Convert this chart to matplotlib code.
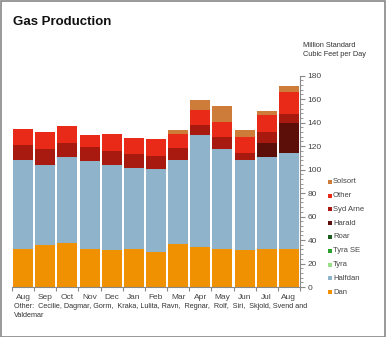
import matplotlib
matplotlib.use("Agg")
import matplotlib.pyplot as plt
from matplotlib.patches import Rectangle
from matplotlib.ticker import MultipleLocator
import numpy as np

plt.rcParams["font.family"] = ["Liberation Sans", "DejaVu Sans"]

months = ["Aug", "Sep", "Oct", "Nov", "Dec", "Jan", "Feb", "Mar", "Apr", "May", "Jun", "Jul", "Aug"]

# stacked from bottom to top
dan = [32.4, 35.8, 37.5, 32.4, 31.5, 32.4, 29.8, 36.6, 34.0, 32.4, 31.5, 32.4, 32.4]
halfdan = [75.8, 68.1, 73.2, 74.9, 72.4, 69.0, 70.7, 71.6, 95.5, 85.1, 76.7, 78.3, 81.5]
tyra = [0] * 13
tyra_se = [0] * 13
roar = [0] * 13
harald = [0, 0, 0, 0, 0, 0, 0, 0, 0, 0, 0, 11.9, 25.8]
syd_arne = [12.8, 13.6, 11.9, 12.0, 11.9, 11.9, 11.1, 10.2, 8.5, 10.3, 5.9, 9.4, 7.7]
other = [13.6, 14.5, 14.4, 10.2, 14.6, 13.6, 14.4, 12.0, 12.8, 12.7, 13.7, 14.5, 18.6]
solsort = [0, 0, 0, 0, 0, 0, 0, 3.4, 8.9, 13.7, 6.0, 3.4, 5.2]

series = [
    ("Dan", dan, "#ef9100"),
    ("Halfdan", halfdan, "#8fb3cb"),
    ("Tyra", tyra, "#98df8a"),
    ("Tyra SE", tyra_se, "#2ca02c"),
    ("Roar", roar, "#1b5e20"),
    ("Harald", harald, "#5c0f08"),
    ("Syd Arne", syd_arne, "#a81a10"),
    ("Other", other, "#e92a18"),
    ("Solsort", solsort, "#cd7c3a"),
]

W, H = 386, 337
fig = plt.figure(figsize=(W / 100, H / 100), dpi=100)
ax = fig.add_axes([12 / W, (H - 287) / H, 288 / W, (287 - 75.7) / H])

x = np.arange(len(months))
bottom = np.zeros(len(months))
for name, vals, color in series:
    vals = np.array(vals, dtype=float)
    ax.bar(x, vals, 0.9, bottom=bottom, color=color, linewidth=0)
    bottom += vals

ax.set_xlim(-0.5, len(months) - 0.5)
ax.set_ylim(0, 180)

for s in ["top", "left"]:
    ax.spines[s].set_visible(False)
ax.spines["right"].set_color("#888888")
ax.spines["bottom"].set_color("#888888")
ax.spines["right"].set_linewidth(0.8)
ax.spines["bottom"].set_linewidth(0.8)

ax.yaxis.tick_right()
ax.yaxis.set_major_locator(MultipleLocator(20))
ax.yaxis.set_minor_locator(MultipleLocator(4))
ax.tick_params(axis="y", which="major", length=3.5, width=0.8, color="#888888",
               labelsize=6, labelcolor="#444444", pad=2)
ax.tick_params(axis="y", which="minor", length=2, width=0.6, color="#888888")

ax.set_xticks(x)
ax.set_xticklabels(months)
ax.set_xticks(np.arange(-0.5, len(months), 1), minor=True)
ax.tick_params(axis="x", which="major", length=0, labelsize=6, labelcolor="#444444", pad=5)
ax.tick_params(axis="x", which="minor", length=3, width=0.8, color="#888888")

fig.text(13 / W, 1 - 22 / H, "Gas Production", fontsize=9.5, fontweight="bold",
         va="center", ha="left", color="#111111")
fig.text(303 / W, 1 - 50 / H, "Million Standard\nCubic Feet per Day", fontsize=5.3,
         va="center", ha="left", color="#333333", linespacing=1.5)
fig.text(14 / W, 1 - 311 / H,
         "Other:  Cecilie, Dagmar, Gorm,  Kraka, Lulita, Ravn,  Regnar,  Rolf,  Siri,  Skjold, Svend and\nValdemar",
         fontsize=5.2, va="center", ha="left", color="#333333", linespacing=1.5)

# legend, top entry first
for i, (name, vals, color) in enumerate(reversed(series)):
    yc = 181.7 + i * 13.8
    fig.add_artist(Rectangle((328 / W, 1 - (yc + 2) / H), 4 / W, 4 / H,
                             transform=fig.transFigure, color=color, lw=0))
    fig.text(333 / W, 1 - yc / H, name, fontsize=5.5, va="center", ha="left", color="#444444")

fig.add_artist(Rectangle((0.5 / W, 0.5 / H), (W - 1.5) / W, (H - 1.5) / H,
                         transform=fig.transFigure, fill=False, edgecolor="#888888", lw=1.2))

fig.savefig("out.png", dpi=100)
